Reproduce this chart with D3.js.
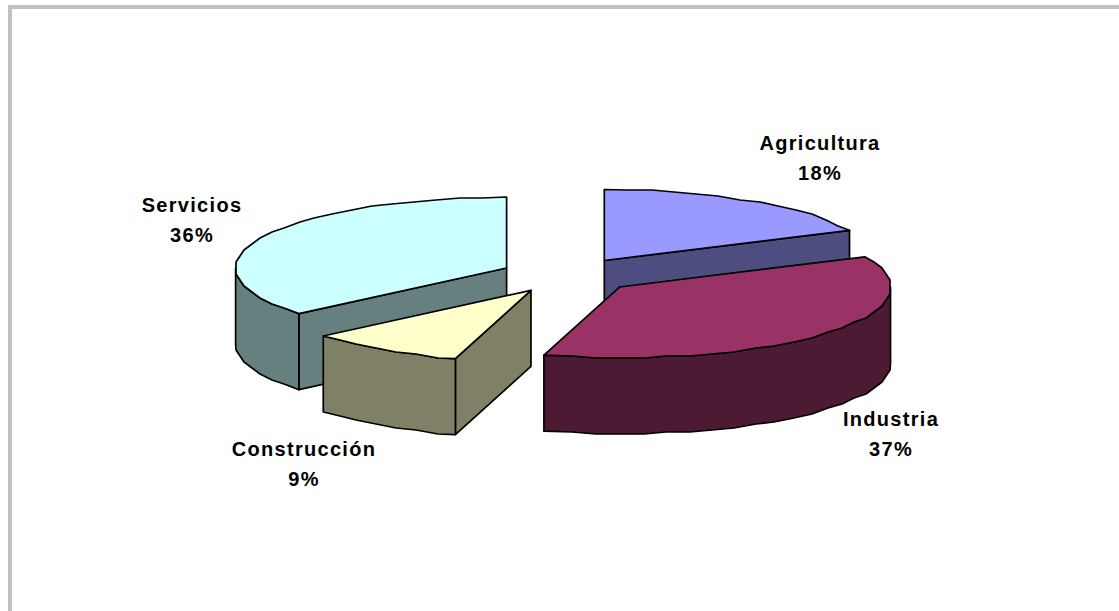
<!DOCTYPE html>
<html>
<head>
<meta charset="utf-8">
<script src="https://cdn.jsdelivr.net/npm/d3@7"></script>
<style>
    html, body { margin: 0; padding: 0; background: #fff; overflow: hidden; }
    text { font-family: "Liberation Sans", Arial, sans-serif; font-weight: bold; font-size: 20px; letter-spacing: 1.3px; fill: #000; text-anchor: middle; }
</style>
</head>
<body>
<div id="chart"></div>
<script>
    var categories = ['Agricultura', 'Industria', 'Construcción', 'Servicios'];
    var shares = [18, 36.5, 9.4, 36.1];
    var topColors = ['#9999ff', '#993366', '#ffffcc', '#ccffff'];
    var wallColors = ['#4d4d80', '#4d1a33', '#808066', '#668080'];
    // back to front
    var drawOrder = [0, 3, 2, 1];
    var labelCenters = [[820, 143], [891, 419], [304, 449], [192, 205]];

    var width = 1119,
        height = 611,
        explode = 0.25,
        depth = 76,
        lineGap = 30;

    var svg = d3.select('#chart').append('svg')
        .attr('width', width)
        .attr('height', height);

    // plot frame, only top and left sides show
    svg.append('path')
        .attr('d', 'M10,' + height + 'V7H' + width)
        .attr('fill', 'none')
        .attr('stroke', '#c0c0c0')
        .attr('stroke-width', 4);

    // unit circle squashed to the tilted ellipse
    var x = d3.scaleLinear().domain([-1, 1]).range([568 - 271, 568 + 271]);
    var y = d3.scaleLinear().domain([-1, 1]).range([275.5 - 71, 275.5 + 71]);

    var pie = d3.pie().sort(null).startAngle(0).endAngle(2 * Math.PI);
    var slices = pie(shares);
    var line = d3.line();

    function project(slice, angle, r) {
        var mid = (slice.startAngle + slice.endAngle) / 2;
        return [
            x(r * Math.sin(angle) + explode * Math.sin(mid)),
            y(-r * Math.cos(angle) - explode * Math.cos(mid))
        ];
    }

    // rim comes out bumpy in the original, coarse sampling on a coarse grid does the same
    function rim(slice, a0, a1) {
        var step = 5 * Math.PI / 180,
            grid = 2,
            pts = [project(slice, a0, 1)];
        for (var a = Math.ceil(a0 / step + 0.4) * step; a < a1 - step * 0.4; a += step) {
            var p = project(slice, a, 1);
            pts.push([Math.round(p[0] / grid) * grid, Math.round(p[1] / grid) * grid]);
        }
        pts.push(project(slice, a1, 1));
        return pts;
    }

    function drop(pts) {
        return pts.map(function (p) { return [p[0], p[1] + depth]; }).reverse();
    }

    function face(g, pts, color) {
        g.append('path')
            .attr('d', line(pts) + 'Z')
            .attr('fill', color)
            .attr('stroke', '#000')
            .attr('stroke-width', 1.7)
            .attr('stroke-linejoin', 'round');
    }

    drawOrder.forEach(function (i) {
        var slice = slices[i],
            a0 = slice.startAngle,
            a1 = slice.endAngle,
            apex = project(slice, 0, 0),
            g = svg.append('g').attr('class', 'slice');

        // cut faces that look towards the viewer
        if (Math.cos(a0 - Math.PI / 2) < -0.01) {
            var s = [apex, project(slice, a0, 1)];
            face(g, s.concat(drop(s)), wallColors[i]);
        }
        if (Math.cos(a1 + Math.PI / 2) < -0.01) {
            var e = [apex, project(slice, a1, 1)];
            face(g, e.concat(drop(e)), wallColors[i]);
        }

        // outer wall, front half of the rim only
        var w0 = Math.max(a0, Math.PI / 2),
            w1 = Math.min(a1, 3 * Math.PI / 2);
        if (w1 > w0) {
            var wall = rim(slice, w0, w1);
            face(g, wall.concat(drop(wall)), wallColors[i]);
        }

        face(g, [apex].concat(rim(slice, a0, a1)), topColors[i]);
    });

    categories.forEach(function (name, i) {
        var label = svg.append('text').attr('class', 'label');
        label.append('tspan')
            .attr('x', labelCenters[i][0])
            .attr('y', labelCenters[i][1] + 7)
            .text(name);
        label.append('tspan')
            .attr('x', labelCenters[i][0])
            .attr('y', labelCenters[i][1] + 7 + lineGap)
            .text(Math.round(shares[i]) + '%');
    });
</script>
</body>
</html>
